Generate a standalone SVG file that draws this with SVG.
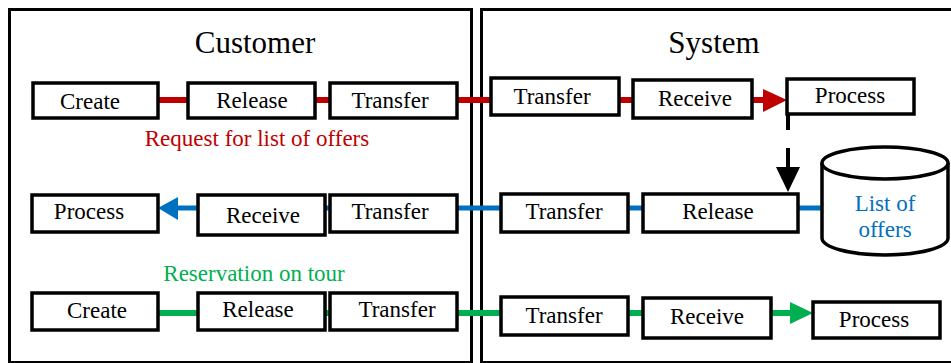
<svg xmlns="http://www.w3.org/2000/svg" width="951" height="363" viewBox="0 0 951 363">
<style>
.frame{fill:none;stroke:#000;stroke-width:3}
.box{fill:#fff;stroke:#000;stroke-width:3.5}
.t{font-family:"Liberation Serif","Times New Roman",serif;font-size:23px;text-anchor:middle;fill:#000}
.title{font-family:"Liberation Serif","Times New Roman",serif;font-size:31px;text-anchor:middle;fill:#000}
.red{stroke:#c00000;stroke-width:6;fill:none}
.blue{stroke:#0070c0;stroke-width:5;fill:none}
.green{stroke:#00b050;stroke-width:6;fill:none}
.blk{stroke:#000;stroke-width:4;fill:none}
</style>
<rect width="951" height="363" fill="#fff"/>
<g id="customer-lane">
<rect class="frame" x="9.5" y="9.5" width="462" height="353"/>
<text class="title" x="255" y="53">Customer</text>
</g>
<g id="system-lane">
<rect class="frame" x="481.5" y="9.5" width="480" height="353"/>
<text class="title" x="714" y="53">System</text>
</g>
<g id="connectors">
<line class="red" x1="158" y1="100" x2="188" y2="100"/>
<line class="red" x1="315" y1="100" x2="330" y2="100"/>
<line class="red" x1="457" y1="100" x2="491" y2="100"/>
<line class="red" x1="619" y1="100" x2="633" y2="100"/>
<line class="red" x1="752" y1="100" x2="765" y2="100"/>
<polygon points="763,89 787,100 763,112" fill="#c00000"/>
<line class="blk" x1="788" y1="115" x2="788" y2="130"/>
<line class="blk" x1="788" y1="148" x2="788" y2="168"/>
<polygon points="776,167 800,167 788,192" fill="#000"/>
<line class="blue" x1="798" y1="208" x2="822" y2="208"/>
<line class="blue" x1="628" y1="208" x2="643" y2="208"/>
<line class="blue" x1="457" y1="208" x2="501" y2="208"/>
<line class="blue" x1="325" y1="208" x2="330" y2="208"/>
<line class="blue" x1="175" y1="208" x2="198" y2="208"/>
<polygon points="178,197 158,208 178,220" fill="#0070c0"/>
<line class="green" x1="158" y1="313" x2="198" y2="313"/>
<line class="green" x1="325" y1="313" x2="330" y2="313"/>
<line class="green" x1="457" y1="313" x2="501" y2="313"/>
<line class="green" x1="628" y1="313" x2="643" y2="313"/>
<line class="green" x1="771" y1="313" x2="792" y2="313"/>
<polygon points="790,302 813,313 790,324" fill="#00b050"/>
</g>
<g id="label-request"><text class="t" x="257" y="146" style="fill:#c00000">Request for list of offers</text></g>
<g id="label-reservation"><text class="t" x="254" y="281" style="fill:#00b050">Reservation on tour</text></g>
<g id="c-create1"><rect class="box" x="33" y="83" width="125" height="35"/><text class="t" x="90" y="109">Create</text></g>
<g id="c-release1"><rect class="box" x="188" y="83" width="127" height="35"/><text class="t" x="252" y="108">Release</text></g>
<g id="c-transfer1"><rect class="box" x="330" y="83" width="127" height="35"/><text class="t" x="390" y="108">Transfer</text></g>
<g id="s-transfer1"><rect class="box" x="491" y="78" width="128" height="37"/><text class="t" x="552" y="104">Transfer</text></g>
<g id="s-receive1"><rect class="box" x="633" y="80" width="119" height="38"/><text class="t" x="695" y="106">Receive</text></g>
<g id="s-process1"><rect class="box" x="787" y="79" width="127" height="35"/><text class="t" x="850" y="103">Process</text></g>
<g id="list-of-offers">
<path d="M822,163 L822,238 A63,17 0 0 0 948,238 L948,163" fill="#fff" stroke="#000" stroke-width="3.5"/>
<ellipse cx="885" cy="163" rx="63" ry="16" fill="#fff" stroke="#000" stroke-width="3.5"/>
<text class="t" x="885" y="211" style="fill:#0070c0">List of</text>
<text class="t" x="885" y="237" style="fill:#0070c0">offers</text>
</g>
<g id="c-process2"><rect class="box" x="32" y="195" width="126" height="37"/><text class="t" x="89" y="219">Process</text></g>
<g id="c-receive2"><rect class="box" x="198" y="195" width="127" height="40"/><text class="t" x="263" y="223">Receive</text></g>
<g id="c-transfer2"><rect class="box" x="330" y="195" width="127" height="37"/><text class="t" x="390" y="219">Transfer</text></g>
<g id="s-transfer2"><rect class="box" x="501" y="194" width="127" height="38"/><text class="t" x="564" y="219">Transfer</text></g>
<g id="s-release2"><rect class="box" x="643" y="194" width="155" height="38"/><text class="t" x="718" y="219">Release</text></g>
<g id="c-create3"><rect class="box" x="32" y="293" width="126" height="37"/><text class="t" x="97" y="318">Create</text></g>
<g id="c-release3"><rect class="box" x="198" y="293" width="127" height="37"/><text class="t" x="258" y="317">Release</text></g>
<g id="c-transfer3"><rect class="box" x="330" y="293" width="127" height="37"/><text class="t" x="397" y="317">Transfer</text></g>
<g id="s-transfer3"><rect class="box" x="501" y="297" width="127" height="38"/><text class="t" x="564" y="323">Transfer</text></g>
<g id="s-receive3"><rect class="box" x="643" y="298" width="128" height="40"/><text class="t" x="707" y="324">Receive</text></g>
<g id="s-process3"><rect class="box" x="813" y="302" width="127" height="36"/><text class="t" x="874" y="327">Process</text></g>
</svg>
